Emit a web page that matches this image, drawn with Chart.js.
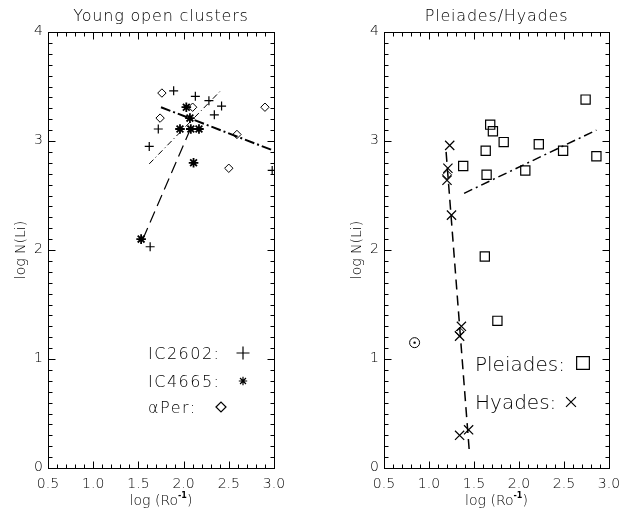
<!DOCTYPE html>
<html>
<head>
<meta charset="utf-8">
<script src="https://cdn.jsdelivr.net/npm/chart.js@4/dist/chart.umd.min.js"></script>
<style>
body { margin: 0; background: #fff; }
#wrap { position: relative; width: 626px; height: 515px; background: #fff; }
canvas { position: absolute; left: 0; top: 0; }
</style>
</head>
<body>
<div id="wrap">
<canvas id="leftChart" width="626" height="515"></canvas>
<canvas id="rightChart" width="626" height="515"></canvas>
</div>
<script>
// axis ticks
const xTickValues = [0.5, 1.0, 1.5, 2.0, 2.5, 3.0];
const xTickLabels = ['0.5', '1.0', '1.5', '2.0', '2.5', '3.0'];
const yTickValues = [0, 1, 2, 3, 4];
const yTickLabels = ['0', '1', '2', '3', '4'];

// left panel: young open clusters
const ic2602X = [1.63, 1.62, 1.72, 1.89, 2.13, 2.28, 2.34, 2.42, 2.98];
const ic2602Y = [2.03, 2.95, 3.11, 3.46, 3.41, 3.37, 3.24, 3.32, 2.73];
const ic4665X = [1.53, 1.96, 2.03, 2.07, 2.08, 2.17, 2.11];
const ic4665Y = [2.10, 3.11, 3.31, 3.21, 3.11, 3.11, 2.80];
const aPerX = [1.74, 1.76, 2.10, 2.50, 2.59, 2.90];
const aPerY = [3.21, 3.44, 3.31, 2.75, 3.06, 3.31];
const fitAX = [1.75, 3.0];
const fitAY = [3.31, 2.91];
const fitBX = [1.62, 2.42];
const fitBY = [2.79, 3.47];
const fitCX = [1.55, 2.08];
const fitCY = [2.10, 3.12];

// right panel: Pleiades / Hyades
const pleiadesX = [2.74, 1.68, 1.71, 1.83, 2.22, 1.63, 2.49, 2.86, 1.38, 2.07, 1.64, 1.62, 1.76];
const pleiadesY = [3.38, 3.15, 3.09, 2.99, 2.97, 2.91, 2.91, 2.86, 2.77, 2.73, 2.69, 1.94, 1.35];
const hyadesX = [1.23, 1.21, 1.20, 1.25, 1.36, 1.34, 1.44, 1.34];
const hyadesY = [2.96, 2.75, 2.64, 2.32, 1.30, 1.21, 0.35, 0.30];
const extraDiamondX = [1.20, 1.34];
const extraDiamondY = [2.69, 1.25];
const sunX = [0.84];
const sunY = [1.15];
const hyadesFitX = [1.19, 1.45];
const hyadesFitY = [2.90, 0.13];
const pleiadesFitX = [1.39, 2.86];
const pleiadesFitY = [2.52, 3.10];

const FONT = '"DejaVu Sans", sans-serif';
const W = '200 ';

function pts(xs, ys) {
    return xs.map((v, i) => ({x: v, y: ys[i]}));
}

function markers(xs, ys, style, radius, width) {
    return {
        data: pts(xs, ys), pointStyle: style, pointRadius: radius,
        borderColor: '#000', backgroundColor: 'rgba(0,0,0,0)',
        pointBorderWidth: width || 1, showLine: false, clip: 0
    };
}

function fitLine(xs, ys, dash, width) {
    return {
        data: pts(xs, ys), showLine: true, pointRadius: 0,
        borderColor: '#000', borderWidth: width, borderDash: dash, clip: 0
    };
}

function drawMarker(ctx, style, r, x, y, w) {
    if (Chart.helpers && Chart.helpers.drawPoint) {
        ctx.strokeStyle = '#000';
        ctx.fillStyle = 'rgba(0,0,0,0)';
        ctx.lineWidth = w || 1;
        Chart.helpers.drawPoint(ctx, {pointStyle: style, radius: r, rotation: 0, borderWidth: w || 1}, x, y);
    }
}

const frameAxes = {
    id: 'frameAxes',
    afterDraw(chart, args, opts) {
        const ctx = chart.ctx;
        const a = chart.chartArea;
        const xs = chart.scales.x, ys = chart.scales.y;
        const L = Math.round(a.left) + 0.5, R = Math.round(a.right) + 0.5;
        const T = Math.round(a.top) + 0.5, B = Math.round(a.bottom) + 0.5;
        ctx.save();
        ctx.strokeStyle = '#000';
        ctx.lineWidth = 1;
        ctx.setLineDash([]);
        ctx.strokeRect(L, T, R - L, B - T);

        ctx.beginPath();
        for (let i = 5; i <= 30; i++) {
            const px = Math.round(xs.getPixelForValue(i / 10)) + 0.5;
            const len = i % 5 === 0 ? 7 : 4;
            ctx.moveTo(px, B); ctx.lineTo(px, B - len);
            ctx.moveTo(px, T); ctx.lineTo(px, T + len);
        }
        for (let i = 0; i <= 40; i++) {
            const py = Math.round(ys.getPixelForValue(i / 10)) + 0.5;
            const len = i % 10 === 0 ? 7 : 4;
            ctx.moveTo(L, py); ctx.lineTo(L + len, py);
            ctx.moveTo(R, py); ctx.lineTo(R - len, py);
        }
        ctx.stroke();

        ctx.fillStyle = '#000';
        ctx.font = W + '14px ' + FONT;
        ctx.textAlign = 'center';
        ctx.textBaseline = 'middle';
        xTickValues.forEach((v, i) => {
            ctx.fillText(xTickLabels[i], xs.getPixelForValue(v), 484);
        });
        ctx.textAlign = 'right';
        yTickValues.forEach((v, i) => {
            ctx.fillText(yTickLabels[i], a.left - 5, ys.getPixelForValue(v) - 1);
        });

        // x title: log (Ro^-1)
        const cx = (a.left + a.right) / 2;
        ctx.textAlign = 'left';
        ctx.textBaseline = 'alphabetic';
        ctx.font = W + '14px ' + FONT;
        const t1 = 'log (Ro', t3 = ')';
        const w1 = ctx.measureText(t1).width, w3 = ctx.measureText(t3).width;
        ctx.font = 'bold 8px ' + FONT;
        const w2 = ctx.measureText('-1').width;
        let sx = cx - (w1 + w2 + w3) / 2;
        ctx.font = W + '14px ' + FONT;
        ctx.fillText(t1, sx, 505);
        ctx.font = 'bold 8px ' + FONT;
        ctx.fillText('-1', sx + w1, 498);
        ctx.font = W + '14px ' + FONT;
        ctx.fillText(t3, sx + w1 + w2, 505);

        // y title
        ctx.save();
        ctx.translate(a.left - 27, ys.getPixelForValue(2));
        ctx.rotate(-Math.PI / 2);
        ctx.textAlign = 'center';
        ctx.textBaseline = 'middle';
        ctx.fillText('log N(Li)', 0, 0);
        ctx.restore();

        // panel title
        ctx.font = W + '16px ' + FONT;
        ctx.letterSpacing = '0.8px';
        ctx.textAlign = 'center';
        ctx.textBaseline = 'middle';
        ctx.fillText(opts.title, cx, 17);
        ctx.letterSpacing = '0px';

        if (opts.extra) opts.extra(ctx);
        ctx.restore();
    }
};

function makeChart(id, padding, datasets, title, extra) {
    return new Chart(document.getElementById(id), {
        type: 'scatter',
        data: {datasets: datasets},
        options: {
            responsive: false,
            animation: false,
            devicePixelRatio: 1,
            layout: {padding: padding},
            scales: {
                x: {type: 'linear', min: 0.5, max: 3.0, display: false},
                y: {type: 'linear', min: 0, max: 4, display: false}
            },
            plugins: {
                legend: {display: false},
                tooltip: {enabled: false},
                frameAxes: {title: title, extra: extra}
            }
        },
        plugins: [frameAxes]
    });
}

makeChart('leftChart', {left: 48, right: 352, top: 32, bottom: 47}, [
    fitLine(fitAX, fitAY, [10, 3, 2, 3], 2),
    fitLine(fitBX, fitBY, [6, 3, 1, 3], 1),
    fitLine(fitCX, fitCY, [12, 6], 1.2),
    markers(ic2602X, ic2602Y, 'cross', 4.5, 1.2),
    markers(ic4665X, ic4665Y, 'star', 4.8, 1.8),
    markers(aPerX, aPerY, 'rectRot', 4.2, 1)
], 'Young open clusters', function (ctx) {
    ctx.font = W + '16px ' + FONT;
    ctx.letterSpacing = '1.5px';
    ctx.textAlign = 'left';
    ctx.textBaseline = 'alphabetic';
    ctx.fillText('IC2602:', 148, 359);
    ctx.fillText('IC4665:', 148, 387);
    ctx.fillText('\u03B1Per:', 148, 413);
    ctx.letterSpacing = '0px';
    drawMarker(ctx, 'cross', 6.5, 243, 353, 1.2);
    drawMarker(ctx, 'star', 4.2, 243, 381, 1.2);
    drawMarker(ctx, 'rectRot', 5, 221, 407, 1.2);
});

makeChart('rightChart', {left: 384, right: 17, top: 32, bottom: 47}, [
    fitLine(hyadesFitX, hyadesFitY, [10, 6], 1.5),
    fitLine(pleiadesFitX, pleiadesFitY, [9, 4, 2, 4], 1.5),
    markers(pleiadesX, pleiadesY, 'rect', 6.5, 1.2),
    markers(hyadesX, hyadesY, 'crossRot', 6.5, 1.2),
    markers(extraDiamondX, extraDiamondY, 'rectRot', 4.5, 1),
    markers(sunX, sunY, 'circle', 5, 1),
    {data: pts(sunX, sunY), pointStyle: 'circle', pointRadius: 1.2, backgroundColor: '#000',
        borderColor: '#000', pointBorderWidth: 0, showLine: false, clip: 0}
], 'Pleiades/Hyades', function (ctx) {
    ctx.font = W + '20px ' + FONT;
    ctx.textAlign = 'left';
    ctx.textBaseline = 'alphabetic';
    ctx.fillText('Pleiades:', 475, 371);
    ctx.fillText('Hyades:', 475, 409);
    drawMarker(ctx, 'rect', 9, 583, 363, 1.2);
    drawMarker(ctx, 'crossRot', 7, 571, 402, 1.2);
});
</script>
</body>
</html>
